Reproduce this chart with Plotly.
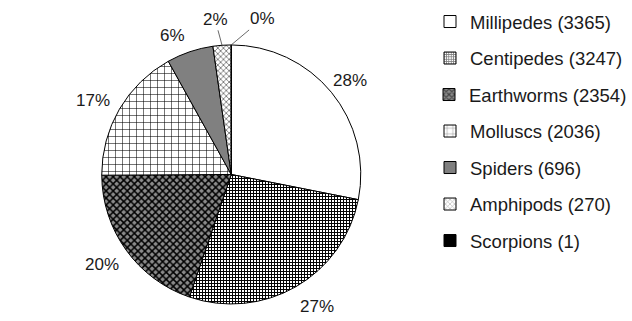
import numpy as np
import plotly.graph_objects as go

categories = ["Millipedes", "Centipedes", "Earthworms", "Molluscs", "Spiders", "Amphipods", "Scorpions"]
counts = [3365, 3247, 2354, 2036, 696, 270, 1]

fills = ["white", "white", "#8a8a8a", "white", "#808080", "white", "black"]
shapes = ["", "+", "x", "+", "", "x", ""]
fgs = ["black", "black", "black", "black", "black", "#444444", "black"]
psizes = [8, 3, 5, 7, 8, 4, 8]
solid = [0.3, 0.55, 0.5, 0.15, 0.3, 0.3, 0.3]

FONT = "Liberation Sans, Arial, sans-serif"
W, H = 632, 321

# pie geometry (layout)
DOM_X = [0.161, 0.572]
DOM_Y = [0.053, 0.860]
LABEL_R = 1.19           # label distance as fraction of radius
LEADER = {5: (-7, -26), 6: (31, -26)}   # pixel offsets for the small slices' labels
NUDGE = {0: (0, 4), 1: (9, -2), 2: (-4, 0), 3: (-5, 4), 4: (-10, 7)}  # small label position tweaks (px)

fig = go.Figure()
fig.add_trace(go.Pie(
    labels=categories, values=counts, sort=False, direction="clockwise", rotation=0,
    textinfo="none",
    marker=dict(colors=fills, line=dict(color="black", width=1),
                pattern=dict(shape=shapes, fgcolor=fgs, bgcolor=fills, size=psizes, solidity=solid)),
    domain=dict(x=DOM_X, y=DOM_Y),
    showlegend=False, hoverinfo="label+value+percent",
))

# percentage labels placed around the pie from the data
vals = np.array(counts, dtype=float)
total = vals.sum()
frac = vals / total
mid = (np.cumsum(frac) - frac / 2) * 2 * np.pi
cx = (DOM_X[0] + DOM_X[1]) / 2 * W
cy = (1 - (DOM_Y[0] + DOM_Y[1]) / 2) * H
R = min((DOM_X[1] - DOM_X[0]) * W, (DOM_Y[1] - DOM_Y[0]) * H) / 2
for i, a in enumerate(mid):
    txt = f"{round(100 * frac[i])}%"
    if i in LEADER:
        px, py = cx + R * np.sin(a), cy - R * np.cos(a)
        ax, ay = LEADER[i]
        fig.add_annotation(x=px / W, y=1 - py / H, xref="paper", yref="paper", text=txt,
                           showarrow=True, ax=ax, ay=ay, arrowhead=0, arrowwidth=0.8,
                           arrowcolor="#444", standoff=0, startstandoff=0,
                           font=dict(family=FONT, size=17, color="#1a1a1a"))
    else:
        dx, dy = NUDGE.get(i, (0, 0))
        px, py = cx + LABEL_R * R * np.sin(a) + dx, cy - LABEL_R * R * np.cos(a) + dy
        fig.add_annotation(x=px / W, y=1 - py / H, xref="paper", yref="paper", text=txt,
                           showarrow=False, xanchor="center", yanchor="middle",
                           font=dict(family=FONT, size=17, color="#1a1a1a"))

# legend: one legend per entry so spacing matches
LEG_X = 430
LEG_TOP = 22
LEG_STEP = 36.5
legends = {}
for i, (c, n) in enumerate(zip(categories, counts)):
    key = "legend" if i == 0 else f"legend{i + 1}"
    fig.add_trace(go.Bar(
        x=[None], y=[None], name=f"{c} ({n})", legend=key,
        marker=dict(color=fills[i], line=dict(color="black", width=1),
                    pattern=dict(shape=shapes[i], fgcolor=fgs[i], bgcolor=fills[i], size=psizes[i], solidity=solid[i])),
        showlegend=True,
    ))
    legends[key] = dict(x=LEG_X / W, xanchor="left", y=1 - (LEG_TOP + i * LEG_STEP) / H, yanchor="middle",
                        font=dict(family=FONT, size=18.5, color="#1a1a1a"), bgcolor="rgba(0,0,0,0)")

fig.update_layout(
    width=W, height=H, margin=dict(l=0, r=0, t=0, b=0),
    paper_bgcolor="white", plot_bgcolor="white",
    xaxis=dict(visible=False), yaxis=dict(visible=False),
    font=dict(family=FONT, size=18, color="#1a1a1a"),
    **legends,
)

fig.write_html("out.html")
